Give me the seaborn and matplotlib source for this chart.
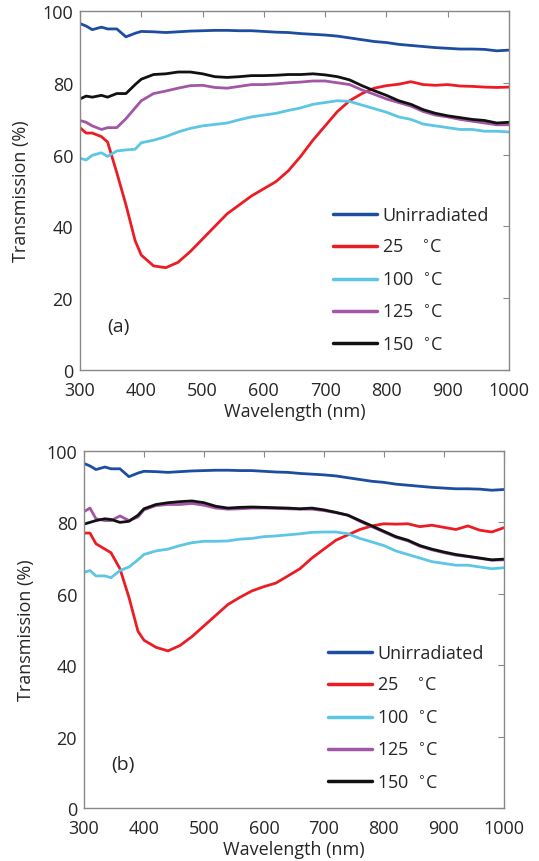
import pandas as pd
import matplotlib
matplotlib.use("Agg")
import matplotlib.pyplot as plt
import seaborn as sns

# wavelength grid (nm) shared by all curves
wavelength = [300, 310, 320, 335, 345, 360, 375, 390, 400, 420, 440, 460, 480, 500,
              520, 540, 560, 580, 600, 620, 640, 660, 680, 700, 720, 740, 760, 780,
              800, 820, 840, 860, 880, 900, 920, 940, 960, 980, 1000]

labels = ["Unirradiated", "25    $^{\\circ}$C", "100  $^{\\circ}$C", "125  $^{\\circ}$C", "150  $^{\\circ}$C"]
colors = ["#1c4da1", "#ec1c24", "#5cc6e4", "#a356a6", "#111111"]

# panel (a)
a_unirr = [96.5, 95.8, 94.8, 95.5, 95.0, 95.0, 92.8, 93.8, 94.3, 94.2, 94.0, 94.2, 94.4, 94.5,
           94.6, 94.6, 94.5, 94.5, 94.3, 94.1, 94.0, 93.7, 93.5, 93.3, 93.0, 92.5, 92.0, 91.5,
           91.2, 90.7, 90.4, 90.1, 89.8, 89.6, 89.4, 89.4, 89.3, 88.9, 89.1]
a_25 = [67.5, 66.0, 66.0, 65.0, 63.5, 55.0, 46.0, 36.0, 32.0, 29.0, 28.5, 30.0, 33.0, 36.5,
        40.0, 43.5, 46.0, 48.5, 50.5, 52.5, 55.5, 59.5, 64.0, 68.0, 72.0, 75.0, 77.0, 78.5,
        79.2, 79.6, 80.3, 79.5, 79.3, 79.5, 79.1, 79.0, 78.8, 78.7, 78.8]
a_100 = [59.0, 58.5, 59.8, 60.5, 59.5, 61.0, 61.3, 61.5, 63.3, 64.0, 65.0, 66.3, 67.3, 68.0,
         68.4, 68.8, 69.7, 70.5, 71.0, 71.5, 72.3, 73.0, 74.0, 74.5, 75.0, 74.8, 73.8, 72.8,
         71.8, 70.5, 69.8, 68.5, 68.0, 67.5, 67.0, 67.0, 66.5, 66.5, 66.3]
a_125 = [69.5, 69.0, 68.0, 67.0, 67.5, 67.5, 70.0, 73.0, 75.0, 77.0, 77.7, 78.5, 79.2, 79.3,
         78.7, 78.5, 79.0, 79.5, 79.5, 79.7, 80.0, 80.2, 80.5, 80.5, 80.0, 79.5, 78.0, 76.8,
         75.5, 74.5, 73.5, 72.0, 71.0, 70.5, 69.8, 69.3, 68.8, 68.3, 68.3]
a_150 = [75.5, 76.3, 76.0, 76.5, 76.0, 77.0, 77.0, 79.5, 81.0, 82.3, 82.5, 83.0, 83.0, 82.5,
         81.7, 81.5, 81.7, 82.0, 82.0, 82.1, 82.3, 82.3, 82.5, 82.2, 81.7, 80.8, 79.2, 77.8,
         76.5, 75.0, 74.0, 72.5, 71.5, 70.8, 70.3, 69.8, 69.5, 68.8, 69.0]

# panel (b)
b_unirr = [96.5, 95.8, 94.8, 95.5, 95.0, 95.0, 92.8, 93.8, 94.3, 94.2, 94.0, 94.2, 94.4, 94.5,
           94.6, 94.6, 94.5, 94.5, 94.3, 94.1, 94.0, 93.7, 93.5, 93.3, 93.0, 92.5, 92.0, 91.5,
           91.2, 90.7, 90.4, 90.1, 89.8, 89.6, 89.4, 89.4, 89.3, 89.0, 89.2]
b_25 = [77.0, 77.0, 74.0, 72.5, 71.5, 67.0, 59.0, 49.5, 47.0, 45.0, 44.0, 45.5, 48.0, 51.0,
        54.0, 57.0, 59.0, 60.8, 62.0, 63.0, 65.0, 67.0, 70.0, 72.5, 75.0, 76.5, 78.0, 79.0,
        79.6, 79.5, 79.6, 78.8, 79.2, 78.6, 78.0, 79.0, 77.8, 77.3, 78.5]
b_100 = [66.0, 66.5, 65.0, 65.0, 64.5, 66.5, 67.5, 69.5, 71.0, 72.0, 72.5, 73.5, 74.3, 74.7,
         74.7, 74.8, 75.3, 75.5, 76.0, 76.2, 76.5, 76.8, 77.2, 77.3, 77.3, 76.8, 75.5, 74.5,
         73.5, 72.0, 71.0, 70.0, 69.0, 68.5, 68.0, 68.0, 67.5, 67.0, 67.3]
b_125 = [83.0, 84.0, 81.0, 80.5, 80.5, 81.8, 80.5, 81.5, 83.5, 84.7, 85.0, 85.0, 85.3, 84.8,
         84.0, 83.7, 83.8, 84.0, 84.0, 83.9, 83.8, 83.7, 83.7, 83.3, 82.7, 82.0, 80.3, 78.8,
         77.3, 75.8, 74.8, 73.3, 72.3, 71.5, 70.8, 70.4, 69.9, 69.4, 69.5]
b_150 = [79.5, 80.0, 80.5, 81.0, 80.8, 80.0, 80.3, 82.0, 83.8, 85.0, 85.5, 85.8, 86.0, 85.5,
         84.5, 84.0, 84.2, 84.3, 84.2, 84.1, 84.0, 83.8, 84.0, 83.5, 82.8, 82.0, 80.5, 79.0,
         77.5, 76.0, 75.0, 73.5, 72.5, 71.7, 71.0, 70.5, 70.0, 69.5, 69.7]


def make_frame(series):
    rows = []
    for lab, vals in zip(labels, series):
        for w, v in zip(wavelength, vals):
            rows.append({"Wavelength": w, "Transmission": v, "Sample": lab})
    return pd.DataFrame(rows)


sns.set_style("white")
plt.rcParams["font.family"] = ["Open Sans", "DejaVu Sans"]
plt.rcParams["font.size"] = 13

fig = plt.figure(figsize=(5.39, 8.62), dpi=100)
ax_a = fig.add_axes([0.1484, 0.5696, 0.796, 0.4165])
ax_b = fig.add_axes([0.1558, 0.0615, 0.779, 0.4142])

panels = [
    (ax_a, [a_unirr, a_25, a_100, a_125, a_150], "(a)"),
    (ax_b, [b_unirr, b_25, b_100, b_125, b_150], "(b)"),
]

for ax, series, tag in panels:
    df = make_frame(series)
    sns.lineplot(data=df, x="Wavelength", y="Transmission", hue="Sample",
                 hue_order=labels, palette=colors, linewidth=2, ax=ax)
    ax.set_xlim(300, 1000)
    ax.set_ylim(0, 100)
    ax.set_xticks(range(300, 1001, 100))
    ax.set_yticks(range(0, 101, 20))
    ax.set_xlabel("Wavelength (nm)", fontsize=13)
    ax.set_ylabel("Transmission (%)", fontsize=13)
    ax.xaxis.set_label_coords(0.5, -0.09)
    ax.yaxis.set_label_coords(-0.117, 0.5)
    ax.tick_params(direction="in", length=4, color="#888888", top=True, right=True,
                   labelsize=13)
    ax.tick_params(axis="y", pad=5)
    ax.tick_params(axis="x", pad=8)
    for sp in ax.spines.values():
        sp.set_color("#888888")
        sp.set_linewidth(1)
    ax.text(345, 11, tag, fontsize=14)
    leg = ax.legend(loc="lower right", bbox_to_anchor=(0.99, 0.0), frameon=False,
                    fontsize=13, handlelength=2.4, handletextpad=0.3, labelspacing=0.8)
    for line in leg.get_lines():
        line.set_linewidth(2.5)

fig.savefig("out.png", dpi=100)
